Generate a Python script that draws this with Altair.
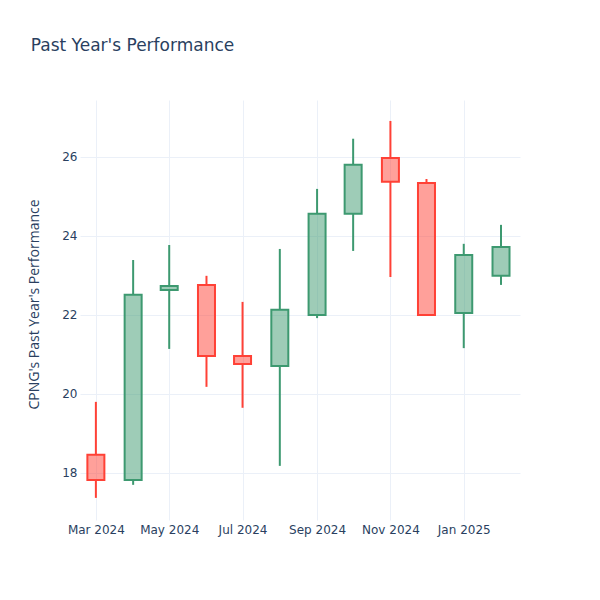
import altair as alt
import pandas as pd

dates = ["2024-03-01", "2024-04-01", "2024-05-01", "2024-06-01", "2024-07-01", "2024-08-01",
         "2024-09-01", "2024-10-01", "2024-11-01", "2024-12-01", "2025-01-01", "2025-02-01"]
open_ = [18.46, 17.82, 22.63, 22.76, 20.96, 20.71, 22.00, 24.56, 25.97, 25.34, 22.05, 22.99]
high = [19.80, 23.39, 23.77, 22.99, 22.33, 23.67, 25.19, 26.46, 26.91, 25.44, 23.80, 24.28]
low = [17.37, 17.70, 21.14, 20.18, 19.65, 18.18, 21.92, 23.62, 22.96, 22.00, 21.16, 22.76]
close = [17.82, 22.51, 22.73, 20.96, 20.76, 22.13, 24.56, 25.80, 25.37, 22.00, 23.52, 23.72]

df = pd.DataFrame({"date": dates, "open": open_, "high": high, "low": low, "close": close})

UP = "#3D9970"
DOWN = "#FF4136"
TEXT = "#2a3f5f"
GRID = "#ebf0f8"

x_ticks = [alt.DateTime(year=y, month=m, date=1, utc=True)
           for y, m in [(2024, 3), (2024, 5), (2024, 7), (2024, 9), (2024, 11), (2025, 1)]]

xscale = alt.Scale(type="utc", nice=False, padding=0, domain=[
    alt.DateTime(year=2024, month=2, date=16, hours=19, utc=True),
    alt.DateTime(year=2025, month=2, date=16, hours=19, utc=True)])
yscale = alt.Scale(domain=[16.81, 27.44], nice=False, zero=False, padding=0)

color = alt.Color("dir:N", scale=alt.Scale(domain=["up", "down"], range=[UP, DOWN]), legend=None)

base = alt.Chart(df).transform_calculate(
    dir="datum.close >= datum.open ? 'up' : 'down'",
    bodyLow="min(datum.open, datum.close)",
    bodyHigh="max(datum.open, datum.close)",
)

x_enc = alt.X("date:T", scale=xscale, title=None,
              axis=alt.Axis(values=x_ticks, labelExpr="utcFormat(datum.value, '%b %Y')",
                            grid=True, gridColor=GRID, gridWidth=1, domain=False, ticks=False,
                            labelFont="DejaVu Sans", labelFontSize=12, labelColor=TEXT,
                            labelPadding=4, labelFlush=False))
y_enc_axis = alt.Axis(values=[18, 20, 22, 24, 26], grid=True, gridColor=GRID, gridWidth=1,
                      domain=False, ticks=False, labelFont="DejaVu Sans", labelFontSize=12,
                      labelColor=TEXT, labelPadding=3,
                      title="CPNG's Past Year's Performance", titleFont="Open Sans",
                      titleFontSize=14, titleColor=TEXT, titleFontWeight="normal",
                      titlePadding=20, titleY=204)

wick_low = base.mark_rule(strokeWidth=2).encode(
    x=x_enc,
    y=alt.Y("low:Q", scale=yscale, axis=y_enc_axis),
    y2="bodyLow:Q",
    color=color,
)
wick_high = base.mark_rule(strokeWidth=2).encode(
    x="date:T",
    y="bodyHigh:Q",
    y2="high:Q",
    color=color,
)
body = base.mark_bar(size=17, strokeWidth=2, fillOpacity=0.5).encode(
    x="date:T",
    y="bodyLow:Q",
    y2="bodyHigh:Q",
    fill=color,
    stroke=color,
)

chart = alt.layer(wick_low, wick_high, body).properties(
    width=440, height=420,
    title=alt.TitleParams("Past Year's Performance", anchor="start", fontSize=17,
                          font="DejaVu Sans", fontWeight="normal", color=TEXT,
                          baseline="alphabetic", offset=32, dx=3),
    autosize=alt.AutoSizeParams(type="none"),
    padding={"left": 72, "top": 92, "right": 72, "bottom": 72},
).configure(background="white", view=alt.ViewConfig(stroke=None))

chart.save("out.html", embed_options={"renderer": "svg", "actions": False})
